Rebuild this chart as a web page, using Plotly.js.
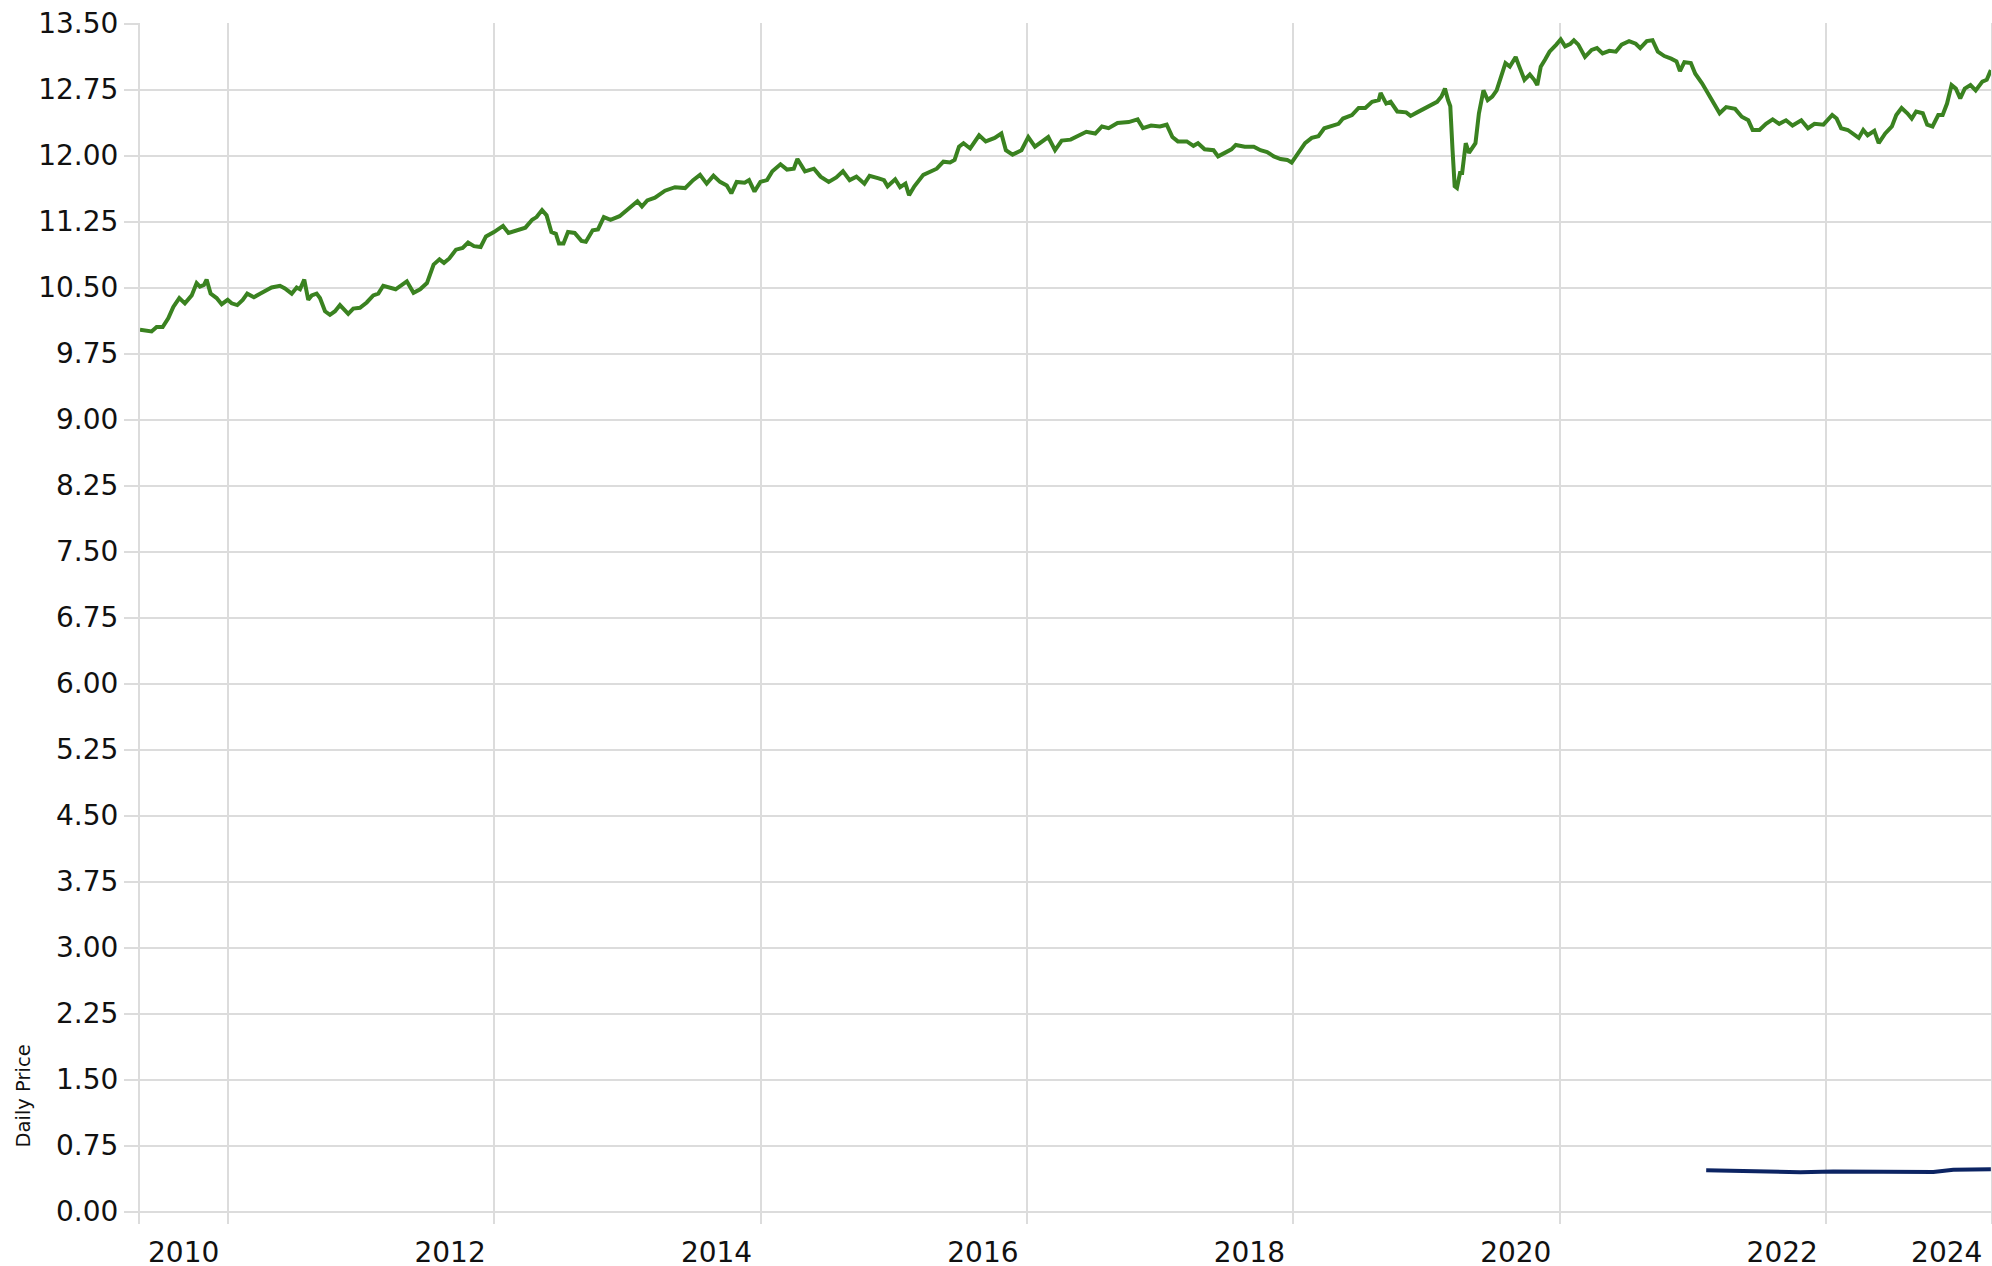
<!DOCTYPE html>
<html>
<head>
<meta charset="utf-8">
<script src="https://cdn.plot.ly/plotly-3.0.1.min.js"></script>
<style>html,body{margin:0;padding:0;background:#fff;}#chart{width:1992px;height:1266px;}</style>
</head>
<body>
<div id="chart"></div>
<script>
// Fund daily price (decimal year, price)
const fundYears = [
2009.342,2009.429,2009.467,2009.512,2009.554,2009.592,2009.637,2009.679,2009.730,2009.767,2009.792,2009.822,2009.842,2009.872,2009.917,2009.955,
2010.000,2010.030,2010.072,2010.113,2010.147,2010.197,2010.243,2010.280,2010.330,2010.393,2010.430,2010.481,2010.518,2010.543,2010.575,2010.605,2010.631,2010.668,2010.693,2010.731,2010.768,2010.806,2010.843,2010.905,2010.943,2010.993,
2011.044,2011.093,2011.131,2011.168,2011.261,2011.345,2011.395,2011.445,2011.496,2011.546,2011.590,2011.624,2011.664,2011.714,2011.764,2011.805,2011.849,2011.899,2011.939,2011.999,
2012.067,2012.108,2012.168,2012.235,2012.286,2012.319,2012.360,2012.394,2012.430,2012.464,2012.487,2012.521,2012.555,2012.605,2012.656,2012.689,2012.740,2012.780,2012.824,2012.874,2012.942,
2013.009,2013.076,2013.110,2013.150,2013.208,2013.283,2013.358,2013.434,2013.494,2013.546,2013.596,2013.647,2013.696,2013.747,2013.781,2013.821,2013.881,2013.914,2013.955,2013.999,
2014.049,2014.089,2014.150,2014.199,2014.250,2014.277,2014.334,2014.401,2014.451,2014.512,2014.569,2014.619,2014.669,2014.720,2014.780,2014.819,2014.887,2014.927,2014.954,
2015.011,2015.048,2015.088,2015.115,2015.155,2015.222,2015.272,2015.323,2015.373,2015.423,2015.457,2015.490,2015.524,2015.574,2015.641,2015.691,2015.758,2015.808,2015.842,2015.892,2015.959,
2016.010,2016.060,2016.110,2016.160,2016.211,2016.261,2016.328,2016.395,2016.446,2016.513,2016.563,2016.613,2016.680,2016.764,2016.831,2016.871,2016.932,2016.998,
2017.049,2017.092,2017.133,2017.200,2017.250,2017.284,2017.334,2017.401,2017.435,2017.485,2017.535,2017.568,2017.635,2017.703,2017.753,2017.803,2017.853,2017.904,2017.954,2017.987,
2018.037,2018.088,2018.138,2018.188,2018.232,2018.289,2018.339,2018.373,2018.440,2018.490,2018.540,2018.591,2018.641,2018.655,2018.697,2018.730,2018.780,2018.847,2018.880,2018.929,2018.979,
2019.028,2019.079,2019.112,2019.138,2019.161,2019.178,2019.195,2019.211,2019.228,2019.251,2019.267,2019.294,2019.318,2019.344,2019.367,2019.393,2019.427,2019.459,2019.493,2019.526,2019.559,2019.592,2019.625,2019.669,2019.691,2019.735,2019.775,2019.808,2019.831,2019.857,2019.890,2019.923,2019.974,
2020.007,2020.040,2020.080,2020.106,2020.139,2020.189,2020.239,2020.279,2020.321,2020.372,2020.421,2020.464,2020.520,2020.570,2020.604,2020.653,2020.696,2020.736,2020.785,2020.836,2020.876,2020.902,2020.935,2020.984,
2021.017,2021.068,2021.117,2021.167,2021.200,2021.249,2021.316,2021.366,2021.415,2021.448,2021.499,2021.548,2021.598,2021.647,2021.698,2021.747,2021.813,2021.863,2021.912,2021.979,
2022.045,2022.078,2022.112,2022.162,2022.211,2022.244,2022.278,2022.311,2022.361,2022.394,2022.443,2022.493,2022.526,2022.566,2022.609,2022.642,2022.675,2022.725,2022.758,2022.798,2022.841,2022.874,2022.907,2022.941,2022.973,
2023.006,2023.040,2023.083,2023.122,2023.172,2023.205,2023.236
];
const fundPrices = [
10.02,10.00,10.05,10.05,10.15,10.28,10.38,10.32,10.41,10.55,10.51,10.53,10.59,10.43,10.38,10.31,
10.36,10.32,10.30,10.36,10.43,10.39,10.43,10.46,10.50,10.52,10.49,10.43,10.50,10.48,10.59,10.36,10.41,10.43,10.38,10.23,10.19,10.23,10.30,10.20,10.26,10.27,
10.33,10.41,10.43,10.52,10.48,10.57,10.44,10.48,10.55,10.76,10.82,10.78,10.83,10.93,10.95,11.01,10.97,10.96,11.08,11.13,
11.20,11.12,11.15,11.18,11.27,11.30,11.38,11.32,11.13,11.11,11.00,11.00,11.13,11.12,11.03,11.02,11.15,11.16,11.30,11.27,11.31,
11.39,11.48,11.42,11.49,11.52,11.60,11.64,11.63,11.72,11.78,11.68,11.77,11.70,11.66,11.57,11.70,11.69,11.72,11.59,11.70,
11.72,11.82,11.90,11.84,11.85,11.96,11.82,11.85,11.76,11.70,11.75,11.82,11.72,11.76,11.68,11.77,11.74,11.72,11.65,
11.73,11.64,11.68,11.55,11.65,11.78,11.82,11.85,11.93,11.92,11.95,12.10,12.14,12.08,12.23,12.16,12.20,12.25,12.06,12.01,12.06,
12.21,12.10,12.15,12.21,12.06,12.17,12.18,12.23,12.27,12.25,12.33,12.31,12.37,12.38,12.41,12.31,12.34,12.33,
12.35,12.21,12.16,12.16,12.11,12.14,12.07,12.06,11.99,12.03,12.07,12.12,12.10,12.10,12.06,12.04,11.99,11.96,11.95,11.92,
12.03,12.14,12.20,12.22,12.31,12.34,12.36,12.42,12.46,12.54,12.54,12.61,12.63,12.71,12.59,12.61,12.50,12.49,12.45,12.49,12.53,
12.56,12.61,12.67,12.76,12.63,12.56,12.06,11.65,11.63,11.80,11.80,12.14,12.03,12.10,12.14,12.48,12.74,12.63,12.67,12.74,12.90,13.05,13.01,13.12,13.03,12.86,12.92,12.86,12.80,13.01,13.09,13.18,13.26,
13.32,13.24,13.27,13.31,13.26,13.12,13.20,13.22,13.16,13.19,13.18,13.26,13.30,13.27,13.22,13.30,13.31,13.18,13.13,13.10,13.07,12.96,13.06,13.05,
12.93,12.82,12.69,12.56,12.48,12.55,12.53,12.44,12.40,12.29,12.29,12.36,12.41,12.36,12.40,12.34,12.40,12.31,12.36,12.35,
12.46,12.42,12.31,12.29,12.23,12.20,12.29,12.23,12.28,12.14,12.25,12.33,12.46,12.54,12.48,12.42,12.50,12.48,12.35,12.33,12.46,12.46,12.59,12.80,12.76,
12.65,12.76,12.80,12.74,12.84,12.86,12.97
];
// Second share class (decimal year, price)
const classYears = [2021.099,2021.430,2021.805,2022.053,2022.406,2022.804,2022.954,2023.236];
const classPrices = [0.47,0.46,0.445,0.455,0.45,0.45,0.475,0.48];

// Axis ticks
const yTickVals = [0,0.75,1.5,2.25,3,3.75,4.5,5.25,6,6.75,7.5,8.25,9,9.75,10.5,11.25,12,12.75,13.5];
const xTickVals = [2010,2012,2014,2016,2018,2020,2022,2023.235];
const xTickText = ['2010','2012','2014','2016','2018','2020','2022','2024'];

const gridColor = '#dcdcdc';
const fontFam = 'Verdana, "DejaVu Sans", sans-serif';

const traces = [
  {x: fundYears, y: fundPrices, type: 'scatter', mode: 'lines',
   line: {color: '#3a8220', width: 4}, hoverinfo: 'skip'},
  {x: classYears, y: classPrices, type: 'scatter', mode: 'lines',
   line: {color: '#0c2463', width: 4}, hoverinfo: 'skip'}
];

const layout = {
  width: 1992, height: 1266,
  margin: {l: 140, r: 1, t: 23, b: 42, pad: 0},
  paper_bgcolor: '#ffffff', plot_bgcolor: '#ffffff',
  showlegend: false,
  font: {family: fontFam, size: 28, color: '#111111'},
  xaxis: {
    type: 'linear',
    range: [2009.342, 2023.237],
    tickvals: xTickVals, ticktext: xTickText,
    ticks: '', showline: false, zeroline: false,
    showgrid: true, gridcolor: gridColor, gridwidth: 2,
    ticklabelshift: -44, ticklabelstandoff: 9,
    tickfont: {family: fontFam, size: 28, color: '#111111'}
  },
  yaxis: {
    range: [-0.142, 13.5057],
    tickvals: yTickVals, tickformat: '.2f',
    ticks: 'outside', ticklen: 14, tickwidth: 2, tickcolor: gridColor,
    showline: true, mirror: true, linecolor: gridColor, linewidth: 2,
    zeroline: false,
    showgrid: true, gridcolor: gridColor, gridwidth: 2,
    tickfont: {family: fontFam, size: 28, color: '#111111'}
  },
  annotations: [{
    text: 'Daily Price', textangle: -90,
    xref: 'paper', yref: 'paper',
    x: -0.0627, y: 0.107, xanchor: 'center', yanchor: 'middle',
    showarrow: false,
    font: {family: fontFam, size: 19.5, color: '#111111'}
  }]
};

Plotly.newPlot('chart', traces, layout, {displayModeBar: false, staticPlot: true});
</script>
</body>
</html>
